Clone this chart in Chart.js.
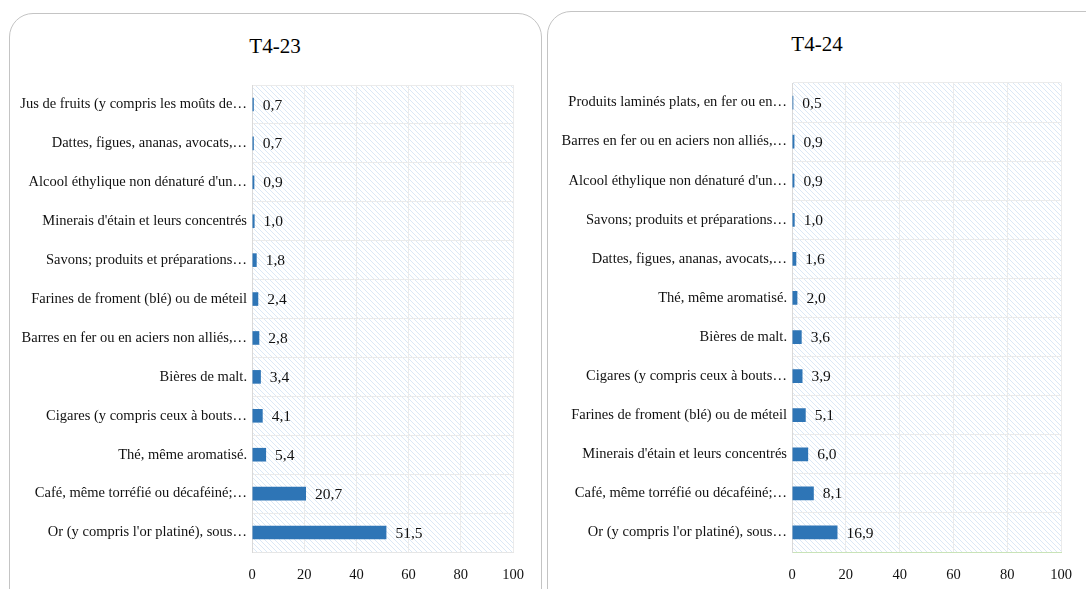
<!DOCTYPE html>
<html>
<head>
<meta charset="utf-8">
<script src="https://cdn.jsdelivr.net/npm/chart.js@4"></script>
<style>
  body { margin: 0; background: #fff; width: 1086px; height: 589px; overflow: hidden; position: relative; font-family: "Liberation Serif", serif; }
  .card { position: absolute; border: 1px solid #c4c4c4; border-radius: 24px; background: #fff; }
  .title { position: absolute; font-size: 21px; color: #000; transform: translateX(-50%); white-space: nowrap; }
  .wrap { position: absolute; top: 0; height: 589px; }
</style>
</head>
<body>
<div class="card" style="left:9px;top:13px;width:531px;height:620px;"></div>
<div class="card" style="left:547px;top:11px;width:620px;height:620px;"></div>
<div class="title" style="left:275px;top:34px;">T4-23</div>
<div class="title" style="left:817px;top:32px;">T4-24</div>
<div class="wrap" style="left:0;width:540px;"><canvas id="c1"></canvas></div>
<div class="wrap" style="left:540px;width:546px;"><canvas id="c2"></canvas></div>
<script>
// T4-23
const labels23 = [
  "Jus de fruits (y compris les moûts de…",
  "Dattes, figues, ananas, avocats,…",
  "Alcool éthylique non dénaturé d'un…",
  "Minerais d'étain et leurs concentrés",
  "Savons; produits et préparations…",
  "Farines de froment (blé) ou de méteil",
  "Barres en fer ou en aciers non alliés,…",
  "Bières de malt.",
  "Cigares (y compris ceux à bouts…",
  "Thé, même aromatisé.",
  "Café, même torréfié ou décaféiné;…",
  "Or (y compris l'or platiné), sous…"
];
const values23 = [0.7, 0.7, 0.9, 1.0, 1.8, 2.4, 2.8, 3.4, 4.1, 5.4, 20.7, 51.5];

// T4-24
const labels24 = [
  "Produits laminés plats, en fer ou en…",
  "Barres en fer ou en aciers non alliés,…",
  "Alcool éthylique non dénaturé d'un…",
  "Savons; produits et préparations…",
  "Dattes, figues, ananas, avocats,…",
  "Thé, même aromatisé.",
  "Bières de malt.",
  "Cigares (y compris ceux à bouts…",
  "Farines de froment (blé) ou de méteil",
  "Minerais d'étain et leurs concentrés",
  "Café, même torréfié ou décaféiné;…",
  "Or (y compris l'or platiné), sous…"
];
const values24 = [0.5, 0.9, 0.9, 1.0, 1.6, 2.0, 3.6, 3.9, 5.1, 6.0, 8.1, 16.9];

const xTicks = [0, 20, 40, 60, 80, 100];

// fond hachuré de la zone de tracé
function makeHatch() {
  const p = document.createElement('canvas');
  p.width = 5; p.height = 5;
  const g = p.getContext('2d');
  g.fillStyle = '#ffffff';
  g.fillRect(0, 0, 5, 5);
  g.strokeStyle = '#dbe8f6';
  g.lineWidth = 1;
  g.beginPath();
  g.moveTo(0, 0); g.lineTo(5, 5);
  g.moveTo(-3, 2); g.lineTo(3, 8);
  g.moveTo(2, -3); g.lineTo(8, 3);
  g.stroke();
  return p;
}

const hatchPlugin = {
  id: 'hatch',
  beforeDraw(chart) {
    const { ctx, chartArea: a } = chart;
    ctx.save();
    ctx.fillStyle = ctx.createPattern(makeHatch(), 'repeat');
    ctx.fillRect(a.left, a.top, a.right - a.left, a.bottom - a.top);
    ctx.restore();
  }
};

const valueLabels = {
  id: 'valueLabels',
  afterDatasetsDraw(chart) {
    const ctx = chart.ctx;
    const meta = chart.getDatasetMeta(0);
    ctx.save();
    ctx.font = '15.5px "Liberation Serif", serif';
    ctx.fillStyle = '#111';
    ctx.textBaseline = 'middle';
    meta.data.forEach((bar, i) => {
      const v = chart.data.datasets[0].data[i];
      ctx.fillText(v.toFixed(1).replace('.', ','), bar.x + 9, bar.y + 1);
    });
    ctx.restore();
  }
};

function makeChart(id, labels, values, padRight, top, bottomColor) {
  return new Chart(document.getElementById(id), {
    type: 'bar',
    data: {
      labels: labels,
      datasets: [{
        data: values,
        backgroundColor: '#2e75b6',
        barPercentage: 0.35,
        categoryPercentage: 1
      }]
    },
    options: {
      indexAxis: 'y',
      responsive: true,
      maintainAspectRatio: false,
      animation: false,
      layout: { padding: { left: 20, right: padRight, top: top, bottom: 0 } },
      plugins: { legend: { display: false }, tooltip: { enabled: false } },
      scales: {
        x: {
          min: 0, max: 100,
          afterBuildTicks: s => { s.ticks = xTicks.map(v => ({ value: v })); },
          afterFit: s => { s.height = 37; },
          grid: { color: '#ebebeb', drawTicks: false },
          border: { color: bottomColor },
          ticks: { padding: 14, color: '#111', font: { family: '"Liberation Serif", serif', size: 14.5 } }
        },
        y: {
          afterFit: s => { s.width = 232; },
          grid: { color: '#ebebeb', drawTicks: false, offset: true },
          border: { color: '#d9d9d9' },
          ticks: { padding: 5, color: '#111', autoSkip: false, font: { family: '"Liberation Serif", serif', size: 14.5 } }
        }
      }
    },
    plugins: [hatchPlugin, valueLabels]
  });
}

makeChart('c1', labels23, values23, 27, 85, '#e6e6e6');
makeChart('c2', labels24, values24, 17, 83, '#c9e3b8');
</script>
</body>
</html>
